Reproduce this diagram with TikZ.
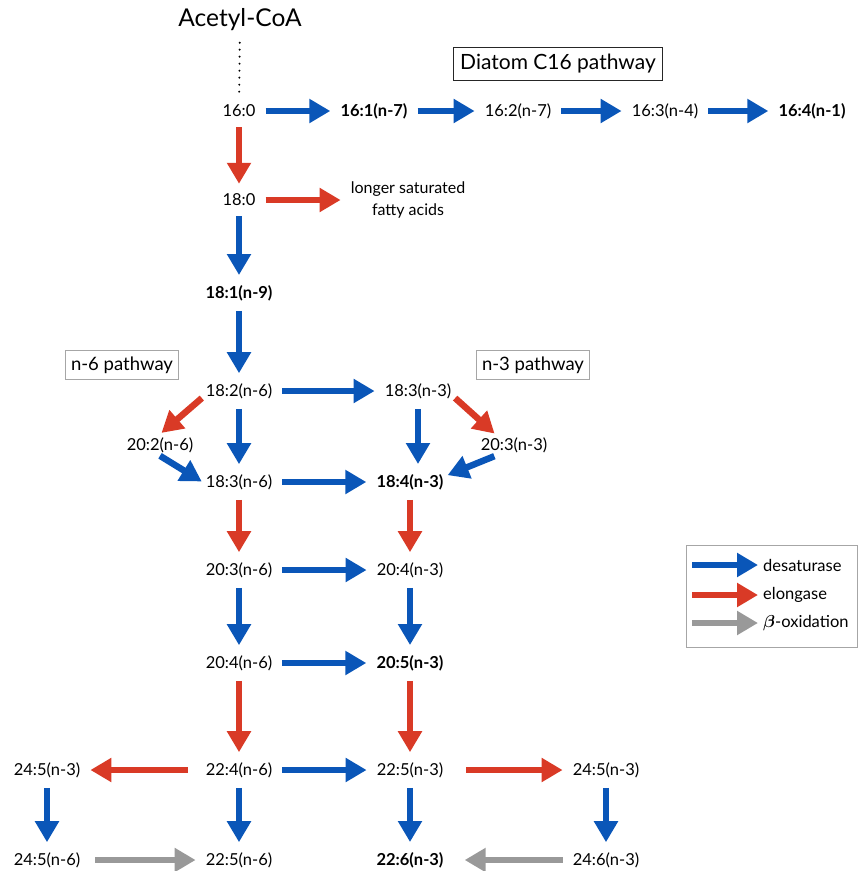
\documentclass[tikz,border=0pt]{standalone}
\usepackage{amsmath}
\usepackage{fontspec}
\setmainfont{Lato}
\usetikzlibrary{arrows.meta,positioning,calc}

\definecolor{desatblue}{HTML}{0A56B8}
\definecolor{elongred}{HTML}{D93A26}
\definecolor{betagray}{HTML}{999999}

\begin{document}
\begin{tikzpicture}[
    x=1pt, y=-1pt,
    fa/.style={font=\fontsize{16.5}{20}\selectfont, inner sep=3pt},
    fabold/.style={fa, font=\fontsize{16.5}{20}\selectfont\bfseries},
    pathbox/.style={draw=gray!70, line width=1pt, inner sep=6pt, font=\fontsize{18.5}{22}\selectfont},
    bigarrow/.style={line width=6.5pt, -{Triangle[width=23pt,length=21pt]}, shorten <=7pt, shorten >=7pt},
    desat/.style={bigarrow, desatblue},
    elong/.style={bigarrow, elongred},
    betaox/.style={bigarrow, betagray}
]
\useasboundingbox (0,0) rectangle (859,871);

% --- Start ---
\node[font=\fontsize{24.5}{29}\selectfont] (acoa) at (240,20) {Acetyl-CoA};
\node[fa] (c160) at (239,111) {16:0};

% --- Diatom C16 pathway ---
\node[fabold] (c161) at (374,111) {16:1(n-7)};
\node[fa] (c162) at (518,111) {16:2(n-7)};
\node[fa] (c163) at (665,111) {16:3(n-4)};
\node[fabold] (c164) at (812,111) {16:4(n-1)};
\node[pathbox, draw=black!85, inner sep=7pt, font=\fontsize{21}{25}\selectfont] (diatom) at (558,64) {Diatom C16 pathway};

% --- Saturated / monounsaturated ---
\node[fa] (c180) at (239,200) {18:0};
\node[fa, align=center, font=\fontsize{16}{22}\selectfont] (longer) at (408,200) {longer saturated\\fatty acids};
\node[fabold] (c181) at (239,293) {18:1(n-9)};

% --- n-6 / n-3 ---
\node[pathbox] (n6box) at (122,365) {n-6 pathway};
\node[pathbox] (n3box) at (533,365) {n-3 pathway};
\node[fa] (c182) at (239,391) {18:2(n-6)};
\node[fa] (c183n3) at (418,391) {18:3(n-3)};
\node[fa] (c202) at (160,445) {20:2(n-6)};
\node[fa] (c203n3) at (514,445) {20:3(n-3)};
\node[fa] (c183n6) at (239,482) {18:3(n-6)};
\node[fabold] (c184) at (410,482) {18:4(n-3)};
\node[fa] (c203n6) at (239,570) {20:3(n-6)};
\node[fa] (c204n3) at (410,570) {20:4(n-3)};
\node[fa] (c204n6) at (239,663) {20:4(n-6)};
\node[fabold] (c205) at (410,663) {20:5(n-3)};
\node[fa] (c224) at (239,770) {22:4(n-6)};
\node[fa] (c225n3) at (410,770) {22:5(n-3)};
\node[fa] (c245l) at (47,770) {24:5(n-3)};
\node[fa] (c245r) at (606,770) {24:5(n-3)};
\node[fa] (c245n6) at (47,860) {24:5(n-6)};
\node[fa] (c225n6) at (239,860) {22:5(n-6)};
\node[fabold] (c226) at (410,860) {22:6(n-3)};
\node[fa] (c246) at (606,860) {24:6(n-3)};

% --- Arrows ---
\draw[line width=2.2pt, dash pattern=on 0pt off 7pt, line cap=round, shorten <=8pt, shorten >=10pt] (acoa) -- (c160);

\draw[desat] (c160) -- (c161);
\draw[desat] (c161) -- (c162);
\draw[desat] (c162) -- (c163);
\draw[desat] (c163) -- (c164);

\draw[elong] (c160) -- (c180);
\draw[elong] (c180) -- (longer);
\draw[desat] (c180) -- (c181);
\draw[desat] (c181) -- (c182);

\draw[desat] (c182) -- (c183n3);
\draw[elong, shorten <=1pt, shorten >=2pt] (c182.190) -- (c202.north);
\draw[desat] (c182) -- (c183n6);
\draw[desat, shorten <=0pt, shorten >=1pt] (c202.south) -- (c183n6.west);
\draw[desat] (c183n6) -- (c184);
\draw[desat] (c183n3.south) -- (c183n3.south |- c184.north);
\draw[elong, shorten <=1pt, shorten >=1pt] (c183n3.-10) -- (c203n3.150);
\draw[desat, shorten <=1pt, shorten >=1pt] (c203n3.210) -- (c184.10);

\draw[elong] (c183n6) -- (c203n6);
\draw[elong] (c184) -- (c204n3);
\draw[desat] (c203n6) -- (c204n3);
\draw[desat] (c203n6) -- (c204n6);
\draw[desat] (c204n3) -- (c205);
\draw[desat] (c204n6) -- (c205);

\draw[elong] (c204n6) -- (c224);
\draw[elong] (c205) -- (c225n3);
\draw[desat] (c224) -- (c225n3);
\draw[elong, shorten <=15pt] (c224) -- (c245l);
\draw[elong, shorten <=20pt] (c225n3) -- (c245r);

\draw[desat] (c245l) -- (c245n6);
\draw[desat] (c224) -- (c225n6);
\draw[desat] (c225n3) -- (c226);
\draw[desat] (c245r) -- (c246);
\draw[betaox, shorten <=12pt] (c245n6) -- (c225n6);
\draw[betaox, shorten >=18pt] (c246) -- (c226);

% --- Legend ---
\node[fa, anchor=west] (ldesat) at (760,565) {desaturase};
\node[fa, anchor=west] (lelong) at (760,595) {elongase};
\node[fa, anchor=west] (lbeta) at (760,623) {$\boldsymbol\beta$-oxidation};
\coordinate (ld) at (692,565);
\coordinate (le) at (692,595);
\coordinate (lb) at (692,623);
\draw[desat, shorten <=0pt, shorten >=2pt] (ld) -- (ldesat);
\draw[elong, shorten <=0pt, shorten >=2pt] (le) -- (lelong);
\draw[betaox, shorten <=0pt, shorten >=2pt] (lb) -- (lbeta);
\draw[draw=gray!70, line width=1pt] (686,545) rectangle (857,647);

\end{tikzpicture}
\end{document}
